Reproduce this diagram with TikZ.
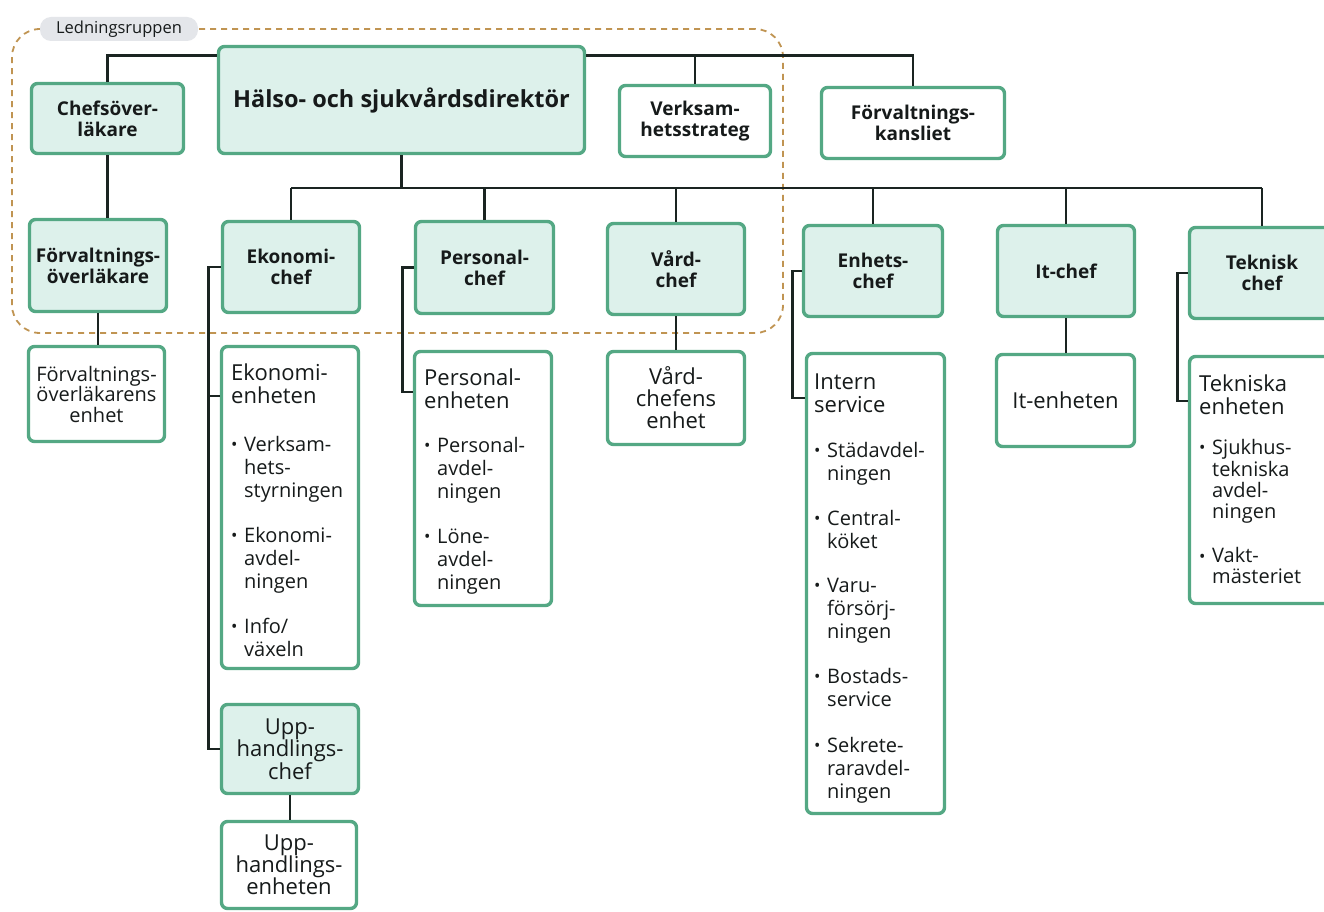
\documentclass[tikz,border=0pt]{standalone}
\usepackage{fontspec}
\setmainfont{Open Sans}
\usetikzlibrary{calc}
\definecolor{bgreen}{RGB}{84,168,132}
\definecolor{mint}{RGB}{221,241,235}
\definecolor{ink}{RGB}{22,26,26}
\definecolor{lineclr}{RGB}{26,36,33}
\definecolor{dashclr}{RGB}{192,148,82}
\definecolor{pillgray}{RGB}{228,230,234}
\newcommand{\hfont}{\fontsize{19}{21}\selectfont\bfseries}
\newcommand{\ufont}{\fontsize{22}{22}\selectfont}
\newcommand{\tfont}{\fontsize{22}{24}\selectfont}
\newcommand{\lfont}{\fontsize{20}{23}\selectfont}
\newcommand{\ti}[1]{\multicolumn{2}{@{}l@{}}{\tfont #1}}
\newcommand{\bu}{\raisebox{1pt}{\fontsize{17}{17}\selectfont •}}
\tikzset{
  box/.style={draw=bgreen, line width=3.4pt, rounded corners=6pt, fill=white, inner sep=0pt, align=center, text=ink},
  chefbox/.style={box, fill=mint, font=\hfont},
  unitbox/.style={box, font=\ufont},
  conn/.style={draw=lineclr, line width=2.8pt},
  listtxt/.style={anchor=base west, inner sep=0pt, text=ink, font=\lfont},
  grpframe/.style={draw=dashclr, line width=1.8pt, dash pattern=on 6pt off 5pt, rounded corners=28pt},
  pill/.style={fill=pillgray, rounded corners=11pt, inner sep=0pt, text=ink, font=\fontsize{16.5}{16.5}\selectfont},
}
\begin{document}
\begin{tikzpicture}[x=1pt,y=-1pt]
\clip (0,0) rectangle (1324,912);
\fill[white] (0,0) rectangle (1324,912);

% group frame
\node[grpframe, minimum width=771pt, minimum height=304pt] (grp) at (397.5,181) {};
\node[pill, minimum width=158pt, minimum height=24pt] (lg) at (119,29) {Ledningsruppen};

% top row
\node[chefbox, minimum width=152pt, minimum height=70pt] (co) at (107.5,118.5) {Chefsöver-\\läkare};
\node[chefbox, minimum width=366pt, minimum height=107pt, font=\fontsize{23.5}{24}\selectfont\bfseries] (hs) at (401.5,100) {\raisebox{-3pt}{Hälso- och sjukvårdsdirektör}};
\node[box, font=\hfont, minimum width=151pt, minimum height=71pt] (vs) at (695,121) {Verksam-\\hetsstrateg};
\node[box, font=\hfont, minimum width=183pt, minimum height=71pt] (fk) at (913,123) {Förvaltnings-\\kansliet};

% second row
\node[chefbox, minimum width=137pt, minimum height=92pt] (fo) at (98,265.5) {Förvaltnings-\\överläkare};
\node[chefbox, minimum width=137pt, minimum height=91pt] (ek) at (291,267) {Ekonomi-\\chef};
\node[chefbox, minimum width=138pt, minimum height=92pt] (pc) at (484.5,267.5) {Personal-\\chef};
\node[chefbox, minimum width=137pt, minimum height=91pt] (vc) at (676,269) {Vård-\\chef};
\node[chefbox, minimum width=139pt, minimum height=91pt] (ec) at (873,271) {Enhets-\\chef};
\node[chefbox, minimum width=137pt, minimum height=91pt] (it) at (1066,271) {It-chef};
\node[chefbox, minimum width=145pt, minimum height=91pt] (tc) at (1262,273) {Teknisk\\chef};

% third row
\node[unitbox, font=\fontsize{20}{20.5}\selectfont, minimum width=136pt, minimum height=95pt] (foe) at (96.5,394) {Förvaltnings-\\överläkarens\\enhet};
\node[box, minimum width=137pt, minimum height=322pt] (eke) at (290,507.5) {};
\node[box, minimum width=137pt, minimum height=254pt] (pe) at (483,478.5) {};
\node[unitbox, minimum width=137pt, minimum height=93pt] (vce) at (676,398) {Vård-\\chefens\\enhet};
\node[box, minimum width=138pt, minimum height=460pt] (is) at (875.5,583.5) {};
\node[unitbox, minimum width=138pt, minimum height=92pt] (ite) at (1065.5,400.5) {It-enheten};
\node[box, minimum width=145pt, minimum height=247pt] (te) at (1262,480) {};
\node[chefbox, font=\ufont, minimum width=137pt, minimum height=89pt] (uc) at (290,749) {Upp-\\handlings-\\chef};
\node[unitbox, minimum width=135pt, minimum height=87pt] (ue) at (289,865) {Upp-\\handlings-\\enheten};

% list texts
\node[listtxt] (ekt) at (231,380) {\begin{tabular}[t]{@{}p{13pt}@{}l@{}}
\ti{Ekonomi-}\\ \ti{enheten}\\[25pt]
\bu & Verksam-\\ & hets-\\ & styrningen\\[22pt]
\bu & Ekonomi-\\ & avdel-\\ & ningen\\[22pt]
\bu & Info/\\ & växeln
\end{tabular}};
\node[listtxt] (pet) at (424,385) {\begin{tabular}[t]{@{}p{13pt}@{}l@{}}
\ti{Personal-}\\ \ti{enheten}\\[21pt]
\bu & Personal-\\ & avdel-\\ & ningen\\[22pt]
\bu & Löne-\\ & avdel-\\ & ningen
\end{tabular}};
\node[listtxt] (ist) at (814,389) {\begin{tabular}[t]{@{}p{13pt}@{}l@{}}
\ti{Intern}\\ \ti{service}\\[22pt]
\bu & Städavdel-\\ & ningen\\[22pt]
\bu & Central-\\ & köket\\[21pt]
\bu & Varu-\\ & försörj-\\ & ningen\\[22pt]
\bu & Bostads-\\ & service\\[23pt]
\bu & Sekrete-\\ & raravdel-\\ & ningen
\end{tabular}};
\node[listtxt, font=\fontsize{20}{21}\selectfont] (tet) at (1199,391) {\begin{tabular}[t]{@{}p{13pt}@{}l@{}}
\ti{Tekniska}\\ \ti{enheten}\\[19pt]
\bu & Sjukhus-\\ & tekniska\\ & avdel-\\ & ningen\\[23pt]
\bu & Vakt-\\ & mästeriet
\end{tabular}};

% connectors
\coordinate (topline) at ([yshift=-11pt]hs.north west);
\coordinate (bus) at (0,188);
\draw[conn] ([yshift=-11pt]hs.north west) -| (co.north);
\draw[conn] ([yshift=-11pt]hs.north east) -| (fk.north);
\draw[conn] (vs.north) -- (vs.north |- topline);
\draw[conn] (co.south) -- (co.south |- fo.north);
\draw[conn] (hs.south) -- (hs.south |- bus);
\draw[conn] (ek.north |- bus) -- (tc.north |- bus);
\foreach \n in {ek,pc,vc,ec,it,tc} \draw[conn] (\n.north) -- (\n.north |- bus);
\draw[conn] (fo.south) -- (fo.south |- foe.north);
\draw[conn] (vc.south) -- (vc.south |- vce.north);
\draw[conn] (it.south) -- (it.south |- ite.north);
\draw[conn] (uc.south) -- (uc.south |- ue.north);
% brackets
\coordinate (ekb) at ([xshift=-12pt]ek.west);
\draw[conn] (ek.west) -- (ekb) |- (uc.west);
\draw[conn] (ekb |- 0,396) -- (eke.west |- 0,396);
\coordinate (pcb) at ([xshift=-11pt]pc.west);
\draw[conn] (pc.west) -- (pcb) |- (pe.west |- 0,392);
\coordinate (ecb) at ([xshift=-9pt]ec.west);
\draw[conn] (ec.west) -- (ecb) |- (is.west |- 0,398);
\coordinate (tcb) at ([xshift=-10pt]tc.west);
\draw[conn] (tc.west) -- (tcb) |- (te.west |- 0,401);
\end{tikzpicture}
\end{document}
